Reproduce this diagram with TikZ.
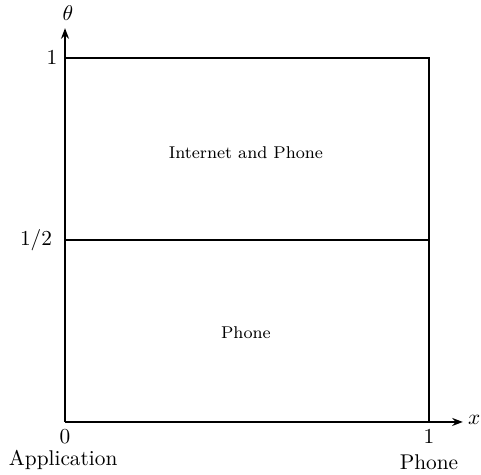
\documentclass[tikz,border=0pt]{standalone}
\usetikzlibrary{arrows.meta}
\begin{document}
\begin{tikzpicture}[scale=6]
  \useasboundingbox (-0.1786,-0.1456) rectangle (1.1429,1.1593);
  % axes
  \coordinate (O) at (0,0);
  \coordinate (xend) at (1.093,0);
  \coordinate (yend) at (0,1.082);
  \draw[thick,-{Stealth[length=5pt]}] (O)--(xend);
  \draw[thick,-{Stealth[length=5pt]}] (O)--(yend);
  \node (xlab) at (1.124,0.005) {$x$};
  \node (tlab) at (0.008,1.124) {$\theta$};
  % regions
  \coordinate (tl) at (0,1);
  \coordinate (tr) at (1,1);
  \coordinate (br) at (1,0);
  \coordinate (ml) at (0,0.5);
  \coordinate (mr) at (1,0.5);
  \draw[thick] (tl)--(tr)--(br);
  \draw[semithick] (ml)--(mr);
  \node[font=\footnotesize] (both) at (0.497,0.739) {Internet and Phone};
  \node[font=\footnotesize] (phone) at (0.497,0.245) {Phone};
  % ticks
  \node (y1) at (-0.0357,1) {$1$};
  \node (yhalf) at (-0.0797,0.5) {$1/2$};
  \node (x0) at (0,-0.041) {$0$};
  \node (x1) at (1,-0.041) {$1$};
  \node (app) at (-0.005,-0.105) {Application};
  \node (ph) at (1,-0.110) {Phone};
\end{tikzpicture}
\end{document}
